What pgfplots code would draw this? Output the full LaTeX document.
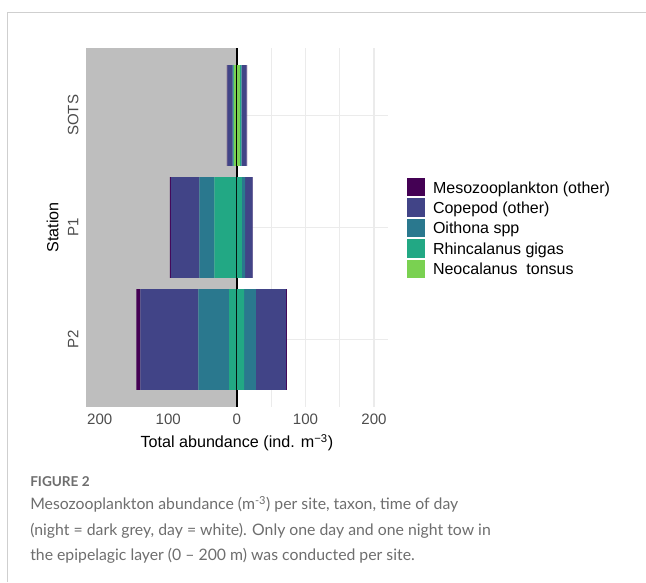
\documentclass[border=0pt]{standalone}
\usepackage{fontspec}
\setmainfont{Liberation Sans}
\newfontfamily\capfont{Lato}
\usepackage{pgfplots}
\usepackage{pgfplotstable}
\pgfplotsset{compat=1.18}

\definecolor{cMeso}{HTML}{440154}
\definecolor{cCope}{HTML}{414487}
\definecolor{cOith}{HTML}{2A788E}
\definecolor{cRhin}{HTML}{22A884}
\definecolor{cNeo}{HTML}{7AD151}
\definecolor{nightgrey}{HTML}{BEBEBE}
\definecolor{gridgrey}{HTML}{EBEBEB}
\definecolor{ticktext}{HTML}{4D4D4D}
\definecolor{capgrey}{HTML}{6E6E6E}
\definecolor{framegrey}{HTML}{CFCFCF}

% night tows (plotted to the left, negative)
\pgfplotstableread{
y neo rhin oith cope meso
1 0.0 -11.3 -44.9 -84.4 -5.8
2 0.0 -32.7 -22.0 -41.4 -1.5
3 -4.0 -1.0 -1.2 -7.5 -0.7
}\night
% day tows (plotted to the right, positive)
\pgfplotstableread{
y neo rhin oith cope meso
1 0.0 10.7 17.1 43.9 1.3
2 0.0 7.3 4.9 10.7 0.6
3 4.5 1.5 1.0 7.3 0.5
}\day

\pgfplotsset{
  panel/.style={
    at={(64.5pt,131.5pt)}, anchor=south west,
    scale only axis, width=226.3pt, height=268.8pt,
    xmin=-220, xmax=220, ymin=0.4, ymax=3.6,
  },
}

\begin{document}
\begin{tikzpicture}
\useasboundingbox (0,0) rectangle (484.5pt,436.5pt);
\fill[white] (0,0) rectangle (484.5pt,436.5pt);
\draw[framegrey, line width=0.75pt] (5.25pt,0) -- (5.25pt,426.75pt) -- (484.5pt,426.75pt);

% background panel, grid and labels
\begin{axis}[panel,
  axis line style={draw=none},
  major tick length=0pt, minor tick length=0pt,
  tick style={draw=none},
  xtick={-200,-100,0,100,200},
  xticklabels={200,100,0,100,200},
  minor xtick={-150,-50,50,150},
  ytick={1,2,3},
  yticklabels={P2,P1,SOTS},
  xmajorgrids, xminorgrids, ymajorgrids,
  major grid style={gridgrey, line width=1pt},
  minor grid style={gridgrey, line width=0.6pt},
  tick label style={font=\fontsize{11.3}{13}\selectfont, text=ticktext, inner sep=0pt},
  xticklabel style={anchor=north, yshift=-5.3pt},
  yticklabel style={xshift=-5.8pt, rotate=90, anchor=base},
  xlabel={Total abundance (ind. m\textsuperscript{−3})},
  ylabel={Station},
  every axis x label/.style={at={(axis description cs:0.5,-0.115)}, anchor=base,
     inner sep=0pt, font=\fontsize{12.1}{14}\selectfont},
  every axis y label/.style={at={(axis description cs:-0.0918,0.5)}, rotate=90, anchor=base,
     inner sep=0pt, font=\fontsize{12.1}{14}\selectfont},
]
\fill[nightgrey] (axis cs:-220,0.4) rectangle (axis cs:0,3.6);
\end{axis}

% night bars
\begin{axis}[panel, hide axis, xbar stacked, bar width=0.9]
\addplot[fill=cNeo, draw=none] table[x=neo, y=y] {\night};
\addplot[fill=cRhin, draw=none] table[x=rhin, y=y] {\night};
\addplot[fill=cOith, draw=none] table[x=oith, y=y] {\night};
\addplot[fill=cCope, draw=none] table[x=cope, y=y] {\night};
\addplot[fill=cMeso, draw=none] table[x=meso, y=y] {\night};
\end{axis}

% day bars, zero line and legend
\begin{axis}[panel, hide axis, xbar stacked, bar width=0.9,
  legend image code/.code={\fill[#1] (0pt,-6.9pt) rectangle (13.5pt,6.9pt);},
  reverse legend,
  legend cell align=left,
  legend style={at={(rel axis cs:1.064,0.6381)}, anchor=north west,
    draw=none, fill=none, inner sep=0pt, outer sep=0pt,
    font=\fontsize{12}{14}\selectfont, row sep=1.5pt,
    nodes={inner sep=0pt, text height=10pt, text depth=1pt},
    /tikz/every odd column/.append style={column sep=6pt}},
]
\addplot[fill=cNeo, draw=none] table[x=neo, y=y] {\day};
\addlegendentry{Neocalanus\ \ tonsus}
\addplot[fill=cRhin, draw=none] table[x=rhin, y=y] {\day};
\addlegendentry{Rhincalanus gigas}
\addplot[fill=cOith, draw=none] table[x=oith, y=y] {\day};
\addlegendentry{Oithona spp}
\addplot[fill=cCope, draw=none] table[x=cope, y=y] {\day};
\addlegendentry{Copepod (other)}
\addplot[fill=cMeso, draw=none] table[x=meso, y=y] {\day};
\addlegendentry{Mesozooplankton (other)}
\draw[black, line width=1pt] (axis cs:0,0.4) -- (axis cs:0,3.6);
\end{axis}

% caption
\node[anchor=base west, inner sep=0pt, text=capgrey, font=\capfont\bfseries\fontsize{10.2}{12}\selectfont] at (22.5pt,71.5pt) {FIGURE 2};
\node[anchor=base west, inner sep=0pt, text=capgrey, font=\capfont\fontsize{11.85}{14}\selectfont] at (22.5pt,54pt) {Mesozooplankton abundance (m\textsuperscript{-3}) per site, taxon, time of day};
\node[anchor=base west, inner sep=0pt, text=capgrey, font=\capfont\fontsize{11.85}{14}\selectfont] at (22.5pt,35.2pt) {(night = dark grey, day = white). Only one day and one night tow in};
\node[anchor=base west, inner sep=0pt, text=capgrey, font=\capfont\fontsize{11.85}{14}\selectfont] at (22.5pt,16.4pt) {the epipelagic layer (0 – 200 m) was conducted per site.};
\end{tikzpicture}
\end{document}
